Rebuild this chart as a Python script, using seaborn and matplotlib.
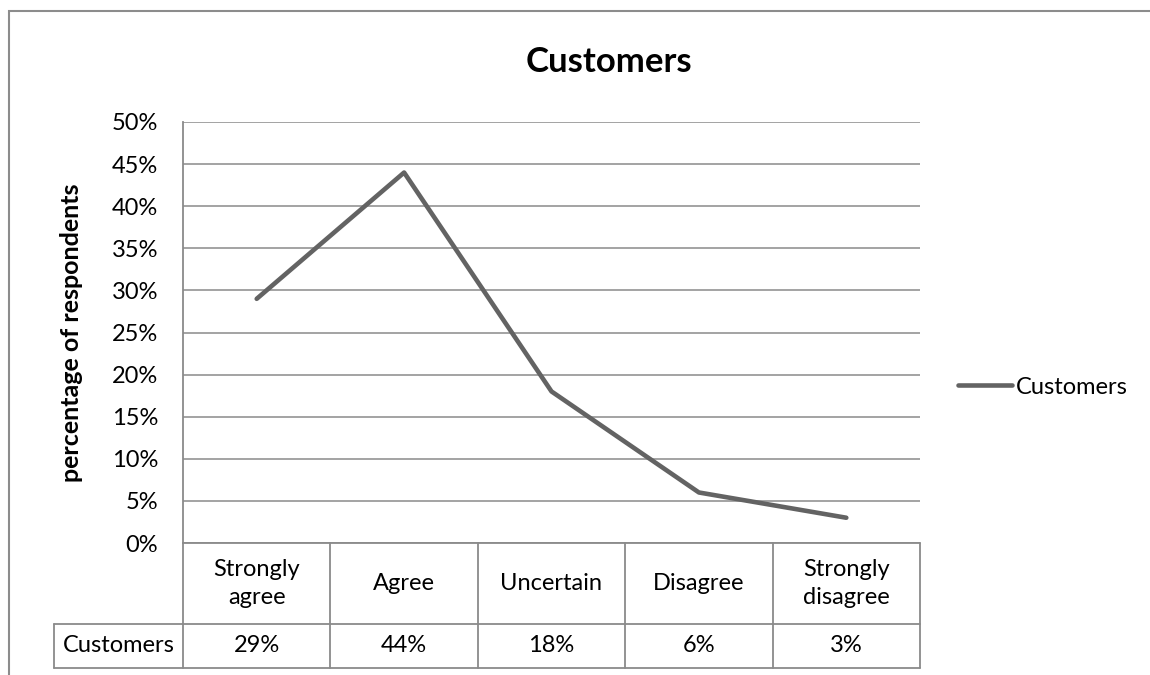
import matplotlib
matplotlib.use("Agg")
import matplotlib.pyplot as plt
import matplotlib.transforms as mtransforms
from matplotlib.lines import Line2D
from matplotlib.patches import Rectangle
import seaborn as sns
import pandas as pd

categories = ["Strongly\nagree", "Agree", "Uncertain", "Disagree", "Strongly\ndisagree"]
customers = [29, 44, 18, 6, 3]
value_labels = ["29%", "44%", "18%", "6%", "3%"]
y_ticks = [0, 5, 10, 15, 20, 25, 30, 35, 40, 45, 50]
series_name = "Customers"

sns.set_theme(style="white")
plt.rcParams["font.family"] = ["Lato", "DejaVu Sans"]
plt.rcParams["text.color"] = "black"

W, H = 1150, 675
FS = 17
fig = plt.figure(figsize=(W / 100, H / 100), dpi=100)

# plot area in pixel bounds
left, right, top, bottom = 183, 920, 122, 543
ax = fig.add_axes([left / W, 1 - bottom / H, (right - left) / W, (bottom - top) / H])

df = pd.DataFrame({"pos": range(len(categories)), "value": customers})
line_color = "#636363"
grid_color = "#8a8a8a"
sns.lineplot(data=df, x="pos", y="value", ax=ax, color=line_color, lw=3.3,
             solid_capstyle="round", legend=False)

ax.set_xlim(-0.5, len(categories) - 0.5)
ax.set_ylim(0, 50)
ax.set_yticks(y_ticks)
ax.set_yticklabels([f"{t}%" for t in y_ticks], fontsize=FS, color="black")
ax.tick_params(axis="y", length=0, pad=18)
ax.set_xticks([])
ax.set_xlabel("")
ax.set_ylabel("")
ax.yaxis.grid(True, color=grid_color, lw=1.1)
ax.set_axisbelow(True)
for side in ["top", "right", "bottom"]:
    ax.spines[side].set_visible(False)
ax.spines["left"].set_color(grid_color)
ax.spines["left"].set_linewidth(1.3)

fig.text(72 / W, 1 - 333 / H, "percentage of respondents", rotation=90,
         ha="center", va="center", fontsize=18, fontweight="bold")

# data table under the plot area
trans = mtransforms.blended_transform_factory(ax.transData, ax.transAxes)
plot_h = bottom - top
row1 = -(624 - bottom) / plot_h
row2 = -(668 - bottom) / plot_h
col_w = (right - left) / len(categories)
x_lab_left = -0.5 - (left - 54) / col_w
n = len(categories)
tl = dict(color=grid_color, lw=1.3, clip_on=False, transform=trans)
ax.add_line(Line2D([-0.5, n - 0.5], [0, 0], **tl))
ax.add_line(Line2D([x_lab_left, n - 0.5], [row1, row1], **tl))
ax.add_line(Line2D([x_lab_left, n - 0.5], [row2, row2], **tl))
ax.add_line(Line2D([x_lab_left, x_lab_left], [row1, row2], **tl))
for i in range(n + 1):
    ax.add_line(Line2D([i - 0.5, i - 0.5], [0, row2], **tl))
for i, (cat, val) in enumerate(zip(categories, value_labels)):
    ax.text(i, row1 / 2, cat, transform=trans, ha="center", va="center",
            fontsize=FS, linespacing=1.4)
    ax.text(i, (row1 + row2) / 2, val, transform=trans, ha="center", va="center",
            fontsize=FS)
ax.text((x_lab_left - 0.5) / 2, (row1 + row2) / 2, series_name, transform=trans,
        ha="center", va="center", fontsize=FS)

# legend
handle = Line2D([], [], color=line_color, lw=3.3, solid_capstyle="round")
fig.legend([handle], [series_name], loc="center left",
           bbox_to_anchor=(958 / W, 1 - 387 / H), frameon=False, fontsize=FS,
           handlelength=2.3, handletextpad=0.15, borderaxespad=0, borderpad=0)

fig.suptitle("Customers", x=609 / W, y=1 - 62 / H, va="center",
             fontsize=25, fontweight="bold")

# chart border
fig.add_artist(Rectangle((9 / W, -0.1), 1.2, 1 - 11 / H + 0.1, transform=fig.transFigure,
                         fill=False, edgecolor="#8c8c8c", lw=1.5))

fig.savefig("out.png", dpi=100, facecolor="white")
